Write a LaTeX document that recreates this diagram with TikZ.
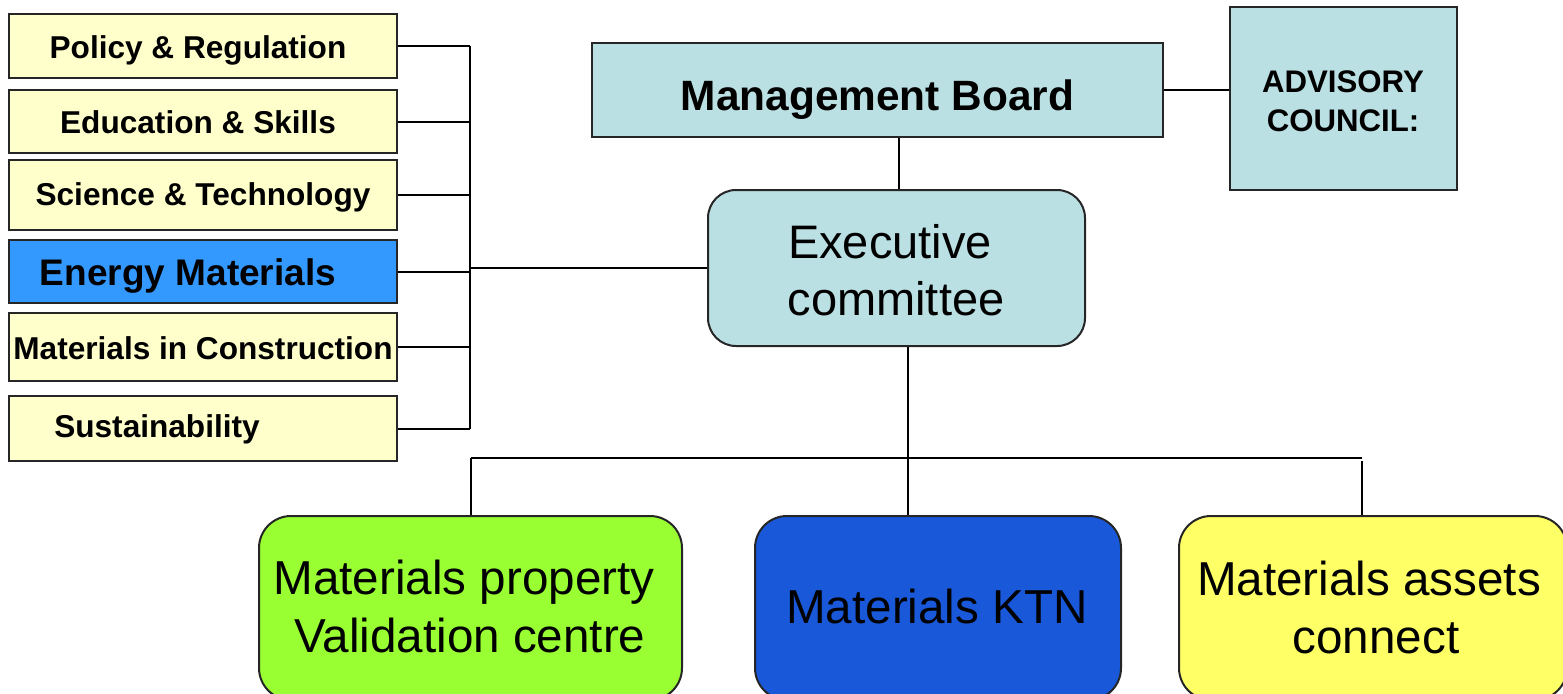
\documentclass[tikz,border=0pt]{standalone}
\usepackage{fontspec}
\setmainfont{Liberation Sans}
\definecolor{lyellow}{HTML}{FFFFCC}
\definecolor{ebl}{HTML}{3399FF}
\definecolor{pale}{HTML}{BBE0E3}
\definecolor{lgreen}{HTML}{99FF33}
\definecolor{ktnblue}{HTML}{1858D9}
\definecolor{yel}{HTML}{FFFF66}
\tikzset{
  box/.style={draw=black!85, line width=1pt, rectangle, inner sep=0pt},
  lbox/.style={box, fill=lyellow, minimum width=194pt},
  ltext/.style={anchor=base, inner sep=0pt, font=\fontsize{15.8}{19}\selectfont\bfseries},
  rbox/.style={box, rounded corners=16pt},
  btext/.style={anchor=base, inner sep=0pt, font=\fontsize{23.8}{28}\selectfont},
  conn/.style={draw=black, line width=1pt}
}
\begin{document}
\begin{tikzpicture}[x=0.5pt,y=-0.5pt]
\useasboundingbox (0,0) rectangle (1563,693);
\clip (0,0) rectangle (1563,693);
% left boxes
\node[lbox, minimum height=32pt] (p1) at (203,46) {};
\node[lbox, minimum height=31.5pt] (p2) at (203,121.5) {};
\node[lbox, minimum height=35pt] (p3) at (203,195) {};
\node[lbox, fill=ebl, minimum height=31.5pt] (p4) at (203,271.5) {};
\node[lbox, minimum height=34pt] (p5) at (203,347) {};
\node[lbox, minimum height=32.5pt] (p6) at (203,428.5) {};
\node[ltext] (t1) at (198,58) {Policy \& Regulation};
\node[ltext] (t2) at (198,133) {Education \& Skills};
\node[ltext] (t3) at (203,205) {Science \& Technology};
\node[ltext, font=\fontsize{18.5}{22}\selectfont\bfseries] (t4) at (188,285) {Energy Materials};
\node[ltext] (t5) at (203,359) {Materials in Construction};
\node[ltext] (t6) at (157,437) {Sustainability};
% top
\node[box, fill=pale, minimum width=285.5pt, minimum height=47pt] (mb) at (877.5,90) {};
\node[anchor=base, inner sep=0pt, font=\fontsize{21.2}{25}\selectfont\bfseries] (mbt) at (877.5,110) {Management Board};
\node[box, fill=pale, minimum width=113.5pt, minimum height=91.5pt] (adv) at (1343.5,98.5) {};
\node[ltext, font=\fontsize{15.6}{19}\selectfont\bfseries] (adv1) at (1343,92) {ADVISORY};
\node[ltext, font=\fontsize{15.6}{19}\selectfont\bfseries] (adv2) at (1343,131) {COUNCIL:};
\node[rbox, fill=pale, rounded corners=14pt, minimum width=188.5pt, minimum height=78pt] (exec) at (896.5,268) {};
\node[btext, font=\fontsize{23.5}{28}\selectfont] (e1) at (890,258) {Executive};
\node[btext, font=\fontsize{23.5}{28}\selectfont] (e2) at (896,315) {committee};
% bottom
\node[rbox, fill=lgreen, minimum width=211.5pt, minimum height=92pt] (gr) at (470.5,608) {};
\node[rbox, fill=ktnblue, minimum width=183pt, minimum height=92pt] (ktn) at (938,608) {};
\node[rbox, fill=yel, minimum width=194pt, minimum height=92pt] (ye) at (1373,608) {};
\node[btext] (g1) at (464,594) {Materials property};
\node[btext] (g2) at (470,652) {Validation centre};
\node[btext] (k1) at (937,623) {Materials KTN};
\node[btext] (y1) at (1369,595) {Materials assets};
\node[btext] (y2) at (1376,653) {connect};
% spine
\coordinate (st) at (470,46);
\coordinate (bus) at (908,458);
\draw[conn] (p1.east -| st) -- (p6.east -| st);
\foreach \n in {p1,p2,p3,p4,p5,p6} {\draw[conn] (\n.east) -- (\n.east -| st);}
\draw[conn] (exec.west) -- (exec.west -| st);
\draw[conn] (mb.east) -- (mb.east -| adv.west);
\draw[conn] (mb.south -| 899,0) -- (exec.north -| 899,0);
\draw[conn] (exec.south -| bus) -- (bus);
\draw[conn] (bus -| gr.north) -- (bus -| 1362,0);
\draw[conn] (bus -| gr.north) -- (gr.north);
\draw[conn] (bus) -- (ktn.north -| bus);
\draw[conn] (1362,461) -- (ye.north -| 1362,0);
\end{tikzpicture}
\end{document}
